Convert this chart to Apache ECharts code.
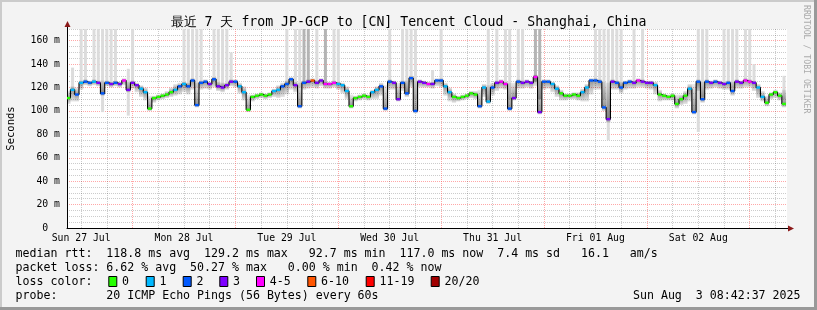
<!DOCTYPE html>
<html><head><meta charset="utf-8">
<script src="https://cdn.jsdelivr.net/npm/echarts@6/dist/echarts.min.js"></script>
<style>html,body{margin:0;padding:0;background:#f3f3f3}#c{width:817px;height:310px}</style>
</head><body><div id="c"></div>
<script>
// ---- data (hours counted from Sun 27 Jul 00:00) ----
const startHour = 9;            // first hourly sample
const axisStart = 8.7;          // Sun 27 Jul 08:42
const axisEnd = 176.7;          // Sun 03 Aug 08:42
const median = [
 111,118,114,124,125,124,125,124,115,124,
 123,124,123,126,118,124,122,119,116,102,
 111,112,113,114,116,118,121,123,121,126,
 105,124,125,123,127,121,120,122,125,125,
 121,116,101,112,113,114,113,114,117,118,
 121,123,127,122,104,124,125,126,124,126,
 123,123,124,123,122,117,104,111,112,113,
 112,116,118,121,102,125,124,110,124,115,
 128,100,125,124,123,123,126,126,121,116,
 112,111,112,113,115,114,104,120,108,120,
 124,125,123,102,111,125,124,125,124,129,
 99,125,125,123,119,115,113,113,114,113,
 116,120,126,126,125,103,93,125,124,120,
 124,125,124,126,125,124,124,122,114,113,
 112,113,106,110,113,119,99,125,110,125,
 124,125,124,123,124,117,125,124,126,125,
 124,120,112,107,114,116,113,106
];
const lossClass = [
 0,1,2,1,2,2,1,3,2,2,
 3,2,3,4,3,3,3,1,1,0,
 0,0,0,0,0,1,2,1,2,2,
 2,2,2,3,2,3,3,3,3,2,
 1,1,0,0,0,0,0,0,1,1,
 2,2,2,3,2,2,3,5,3,3,
 4,4,4,1,1,1,0,0,0,0,
 0,1,1,2,2,2,3,3,2,2,
 2,2,3,3,4,3,2,2,1,1,
 0,0,0,0,0,0,2,1,1,2,
 3,4,4,2,3,2,3,3,3,4,
 3,2,2,1,1,0,0,0,0,0,
 1,1,2,2,2,2,3,3,2,2,
 2,2,3,4,3,3,3,1,0,0,
 0,0,0,0,0,1,2,2,2,2,
 3,2,3,3,2,2,3,3,4,4,
 3,1,1,0,0,0,0,0
];
const smokeLo = [
 106,108,108,118,122,121,122,121,113,121,
 120,121,120,122,116,119,116,112,109,100,
 107,109,110,111,112,113,114,116,114,118,
 103,118,119,118,120,117,116,118,121,120,
 115,109,99,108,110,111,110,111,112,111,
 112,114,118,116,102,118,119,120,119,121,
 119,119,120,118,115,110,102,108,109,110,
 109,110,110,113,100,118,118,108,117,112,
 120,98,120,120,120,119,121,120,113,108,
 107,108,109,110,111,110,102,112,106,113,
 117,119,118,100,109,119,119,120,119,121,
 97,118,119,116,112,109,109,110,110,109,
 108,108,114,118,118,100,90,118,118,115,
 118,119,119,120,120,119,118,114,108,109,
 109,109,102,105,106,108,97,117,107,118,
 119,120,119,118,118,113,119,119,120,120,
 117,111,108,104,110,111,109,103
];
const smokeHi = [
 117,121,120,126,127,126,127,126,126,126,
 125,126,125,128,125,126,124,122,120,113,
 113,114,115,117,120,123,124,125,124,128,
 124,126,127,125,129,125,124,124,127,127,
 124,121,114,114,115,116,115,116,119,122,
 124,126,129,125,124,126,127,128,126,128,
 125,125,126,125,124,121,114,113,114,115,
 114,118,121,124,122,127,126,124,126,126,
 130,126,127,126,125,125,128,128,124,120,
 115,113,114,115,117,117,118,123,122,124,
 126,127,125,124,124,127,126,127,126,131,
 126,127,127,125,122,118,115,115,116,116,
 119,123,128,128,127,125,124,127,126,125,
 126,127,126,128,127,126,126,125,118,115,
 114,115,114,114,117,123,123,127,125,127,
 126,127,126,125,126,125,127,126,128,127,
 126,123,117,113,116,118,116,118
];
// [hour, low ms, high ms, shade] : sparse pings far above the median
const peaks = [
 [10,118,137,0],[12,124,170,0],[13,125,170,0],[15,125,170,0],[16,124,170,0],[17,99,170,0],
 [18,124,170,0],[19,123,170,0],[20,124,170,0],[23,96,136,0],[24,124,170,0],
 [36,123,170,0],[37,121,170,0],[38,126,170,0],[39,120,170,0],[40,124,170,0],[43,127,170,0],
 [44,121,170,0],[45,120,170,0],[46,122,170,0],[47,125,150,0],
 [60,123,170,0],[62,122,170,0],[63,120,170,0],[64,124,170,1],[65,125,170,1],[67,124,170,0],
 [69,123,170,1],[71,124,170,0],[72,123,170,0],
 [84,125,170,0],[87,124,170,0],[88,115,170,0],[89,128,170,0],[90,110,170,0],
 [94,123,135,0],[96,126,170,0],[107,110,170,0],[109,124,170,0],[111,123,170,0],[112,110,170,0],
 [114,125,170,0],[115,124,170,0],[118,125,170,1],[119,110,170,1],
 [132,126,170,0],[133,125,170,0],[134,110,170,0],[135,75,170,0],[136,125,170,0],[137,124,170,0],
 [138,120,170,0],[141,124,170,0],[143,125,170,0],
 [156,82,170,0],[157,112,170,0],[158,125,170,0],[162,123,170,0],[163,124,170,0],[164,120,170,0],
 [165,125,170,0],[167,126,170,0],[168,125,170,0],[169,124,140,0],[176,110,130,0]
];
const dayLabels = ['Sun 27 Jul','Mon 28 Jul','Tue 29 Jul','Wed 30 Jul','Thu 31 Jul','Fri 01 Aug','Sat 02 Aug'];
const dayLabelHours = [12,36,60,84,108,132,156];
const gridHours = [12,18,24,30,36,42,48,54,60,66,72,78,84,90,96,102,108,114,120,126,132,138,144,150,156,162,168,174];
const lossColors = ['#26ff00','#00b8ff','#0059ff','#7e00ff','#ff00ff','#ff5500','#ff0000','#a10000'];
const lossNames = ['0','1','2','3','4-5','6-10','11-19','20/20'];
const title = '最近 7 天 from JP-GCP to [CN] Tencent Cloud - Shanghai, China';
const statLines = [
 'median rtt:  118.8 ms avg  129.2 ms max   92.7 ms min  117.0 ms now  7.4 ms sd   16.1   am/s',
 'packet loss: 6.62 % avg  50.27 % max   0.00 % min  0.42 % now',
 'loss color:',
 'probe:       20 ICMP Echo Pings (56 Bytes) every 60s'
];
const legendX = [108.3,145.7,182.7,219.3,256,307.3,365.7,430.7];
const stamp = 'Sun Aug  3 08:42:37 2025';

// ---- chart ----
const MONO = '"DejaVu Sans Mono", monospace';
const hours = median.map((_, i) => startHour + i);
const chart = echarts.init(document.getElementById('c'), null, {renderer: 'canvas'});
const RED = 'rgba(255,80,80,0.5)', GREY = 'rgba(0,0,0,0.2)';

function clipTo(params, r) {
  const cs = params.coordSys;
  return echarts.graphic.clipRectByRect(r, {x: cs.x, y: cs.y, width: cs.width, height: cs.height});
}

chart.setOption({
  animation: false,
  backgroundColor: '#f3f3f3',
  grid: {left: 67, right: 30, top: 29, bottom: 82, containLabel: false, outerBoundsMode: 'none',
         show: true, backgroundColor: '#ffffff', borderWidth: 0},
  title: {text: title, left: 'center', top: 11, textStyle: {fontFamily: MONO, fontSize: 13.2, fontWeight: 'normal', color: '#000'}},
  xAxis: {
    type: 'value', min: axisStart, max: axisEnd,
    axisLine: {show: true, lineStyle: {color: '#000', width: 1}},
    axisTick: {show: false, customValues: gridHours},
    axisLabel: {customValues: dayLabelHours, fontFamily: MONO, fontSize: 9.8, color: '#000', margin: 5,
      formatter: v => dayLabels[dayLabelHours.indexOf(v)] || ''},
    splitLine: {show: true, lineStyle: {color: [GREY, GREY, RED, GREY], type: 'dotted', width: 1}}
  },
  yAxis: {
    type: 'value', min: 0, max: 170, interval: 5,
    name: 'Seconds', nameLocation: 'middle', nameGap: 50, nameRotate: 90,
    nameTextStyle: {fontFamily: MONO, fontSize: 10.5, color: '#000'},
    axisLine: {show: true, lineStyle: {color: '#000', width: 1}},
    axisTick: {show: false},
    axisLabel: {fontFamily: MONO, fontSize: 9.8, color: '#000', margin: 7,
      formatter: v => (v % 20 === 0 ? (v === 0 ? '0  ' : v + ' m') : '')},
    splitLine: {show: true, lineStyle: {color: [RED, GREY, GREY, GREY], type: 'dotted', width: 1}}
  },
  series: [
    {type: 'custom', name: 'peaks', clip: true, z: 2,
     data: peaks,
     renderItem: function (params, api) {
       const h = api.value(0), lo = api.value(1), hi = api.value(2);
       const a = api.coord([h - 0.35, hi]), b = api.coord([h + 0.35, lo]);
       const r = clipTo(params, {x: a[0], y: a[1], width: b[0] - a[0], height: b[1] - a[1]});
       return r && {type: 'rect', shape: r, style: {fill: api.value(3) ? '#b4b4b4' : '#dcdcdc'}};
     }},
    {type: 'custom', name: 'smoke', clip: true, z: 3,
     data: hours.map((h, i) => [h, smokeLo[i], smokeHi[i], median[i]]),
     renderItem: function (params, api) {
       const h = api.value(0), lo = api.value(1), hi = api.value(2), m = api.value(3);
       const a = api.coord([h - 0.5, hi]), b = api.coord([h + 0.5, lo]);
       const r = clipTo(params, {x: a[0], y: a[1], width: b[0] - a[0], height: b[1] - a[1]});
       if (!r) return null;
       const off = Math.min(1, Math.max(0, (hi - m) / Math.max(1, hi - lo)));
       return {type: 'rect', shape: r, style: {fill: {type: 'linear', x: 0, y: 0, x2: 0, y2: 1, colorStops: [
         {offset: 0, color: 'rgba(0,0,0,0.08)'}, {offset: off, color: 'rgba(0,0,0,0.42)'}, {offset: 1, color: 'rgba(0,0,0,0.10)'}]}}};
     }},
    {type: 'line', name: 'median', step: 'middle', z: 4, showSymbol: false, clip: true,
     data: hours.map((h, i) => [h, median[i]]),
     lineStyle: {color: '#000', width: 1.1}},
    {type: 'custom', name: 'loss', clip: true, z: 5,
     data: hours.map((h, i) => [h, median[i], lossClass[i]]),
     renderItem: function (params, api) {
       const h = api.value(0), m = api.value(1), c = api.value(2);
       const a = api.coord([h - 0.45, m]), b = api.coord([h + 0.45, m]);
       const r = clipTo(params, {x: a[0], y: a[1] - 1.2, width: b[0] - a[0], height: 2.4});
       return r && {type: 'rect', shape: r, style: {fill: lossColors[c]}};
     }}
  ]
});

// ---- decorations (frame, arrows, legend texts) ----
const o = chart.convertToPixel({gridIndex: 0}, [axisStart, 0]);
const t = chart.convertToPixel({gridIndex: 0}, [axisEnd, 170]);
const g = [];
g.push({type: 'rect', shape: {x: 0, y: 0, width: 817, height: 2}, style: {fill: '#cbcbcb'}});
g.push({type: 'rect', shape: {x: 0, y: 0, width: 2, height: 310}, style: {fill: '#cbcbcb'}});
g.push({type: 'rect', shape: {x: 0, y: 307, width: 817, height: 3}, style: {fill: '#999'}});
g.push({type: 'rect', shape: {x: 814, y: 0, width: 3, height: 310}, style: {fill: '#999'}});
const ox = Math.round(o[0]) + 0.5, oy = Math.round(o[1]) + 0.5;
g.push({type: 'line', shape: {x1: ox, y1: t[1], x2: ox, y2: t[1] - 3}, style: {stroke: '#000', lineWidth: 1}});
g.push({type: 'polygon', shape: {points: [[ox - 3, t[1] - 2], [ox + 3, t[1] - 2], [ox, t[1] - 8]]}, style: {fill: '#8b1a1a'}});
g.push({type: 'line', shape: {x1: t[0], y1: oy, x2: t[0] + 3, y2: oy}, style: {stroke: '#000', lineWidth: 1}});
g.push({type: 'polygon', shape: {points: [[t[0] + 1, oy - 3], [t[0] + 1, oy + 3], [t[0] + 7, oy]]}, style: {fill: '#8b1a1a'}});
g.push({type: 'text', x: 806.5, y: 5, rotation: -Math.PI / 2,
  style: {text: 'RRDTOOL / TOBI OETIKER', font: '8.2px ' + MONO, fill: '#aaaaaa', align: 'left', verticalAlign: 'middle', textAlign: 'left', textVerticalAlign: 'middle'}});
const lineY = [254, 268.3, 281.7, 296];
const LFONT = '11.6px ' + MONO;
statLines.forEach((txt, li) => {
  g.push({type: 'text', x: 15.6, y: lineY[li], style: {text: txt, font: LFONT, fill: '#000', align: 'left', verticalAlign: 'middle', textAlign: 'left', textVerticalAlign: 'middle'}});
});
lossNames.forEach((nm, i) => {
  g.push({type: 'rect', shape: {x: legendX[i] + 0.5, y: 276.5, width: 8, height: 10}, style: {fill: lossColors[i], stroke: '#000', lineWidth: 1}});
  g.push({type: 'text', x: legendX[i] + 13.8, y: lineY[2], style: {text: nm, font: LFONT, fill: '#000', align: 'left', verticalAlign: 'middle', textAlign: 'left', textVerticalAlign: 'middle'}});
});
g.push({type: 'text', x: 800.5, y: lineY[3], style: {text: stamp, font: LFONT, fill: '#000', align: 'right', verticalAlign: 'middle', textAlign: 'right', textVerticalAlign: 'middle'}});
chart.setOption({graphic: {elements: g}});
</script></body></html>
